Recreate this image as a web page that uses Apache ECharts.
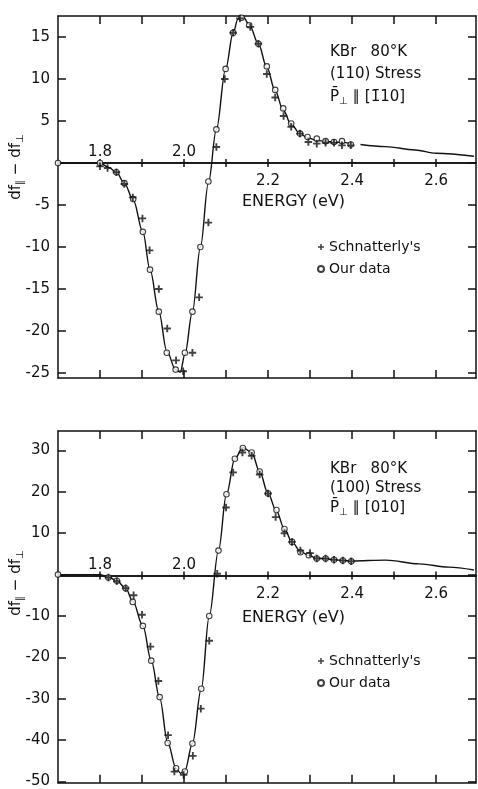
<!DOCTYPE html>
<html>
<head>
<meta charset="utf-8">
<script src="https://cdn.jsdelivr.net/npm/echarts@6/dist/echarts.min.js"></script>
<style>
  html, body { margin: 0; background: #fff; }
  #chart { width: 478px; height: 789px; }
</style>
</head>
<body>
<div id="chart"></div>
<script>
// ---- data ----
const xTicks = [1.8, 1.9, 2.0, 2.1, 2.2, 2.3, 2.4, 2.5, 2.6]
const xLabelsAbove = [1.8, 2.0]
const xLabelsBelow = [2.2, 2.4, 2.6]

const yTicksTop = [-25, -20, -15, -10, -5, 0, 5, 10, 15]
const yLabelsTop = [-25, -20, -15, -10, -5, 5, 10, 15]
const yTicksBot = [-50, -40, -30, -20, -10, 0, 10, 20, 30]
const yLabelsBot = [-50, -40, -30, -20, -10, 10, 20, 30]

// (110) stress panel
const ourTopE = [1.700, 1.800, 1.839, 1.858, 1.879, 1.902, 1.919, 1.940, 1.959, 1.980, 2.002, 2.020, 2.039, 2.058, 2.077, 2.099, 2.117, 2.137, 2.155, 2.177, 2.197, 2.217, 2.236, 2.255, 2.276, 2.294, 2.316, 2.337, 2.357, 2.376, 2.397]
const ourTopV = [0, 0, -1.1, -2.4, -4.3, -8.2, -12.7, -17.7, -22.6, -24.6, -22.6, -17.7, -10.0, -2.2, 4.0, 11.2, 15.5, 17.3, 16.4, 14.2, 11.5, 8.7, 6.5, 4.7, 3.5, 3.1, 2.9, 2.6, 2.5, 2.6, 2.2]
const schTopE = [1.800, 1.818, 1.839, 1.858, 1.878, 1.901, 1.918, 1.940, 1.960, 1.981, 1.998, 2.020, 2.036, 2.058, 2.077, 2.097, 2.117, 2.133, 2.158, 2.177, 2.197, 2.217, 2.237, 2.255, 2.276, 2.296, 2.316, 2.337, 2.357, 2.376, 2.397]
const schTopV = [-0.4, -0.6, -1.1, -2.5, -4.1, -6.6, -10.4, -15.0, -19.7, -23.5, -24.8, -22.6, -16.0, -7.1, 1.9, 10.0, 15.5, 17.2, 16.2, 14.2, 10.6, 7.8, 5.6, 4.3, 3.5, 2.5, 2.3, 2.4, 2.4, 2.1, 2.1]
const curveTopE = [1.70, 1.80, 1.82, 1.839, 1.858, 1.879, 1.902, 1.919, 1.940, 1.959, 1.980, 1.991, 2.002, 2.020, 2.039, 2.058, 2.077, 2.099, 2.117, 2.128, 2.140, 2.155, 2.177, 2.197, 2.217, 2.236, 2.255, 2.276, 2.294, 2.316, 2.337, 2.357, 2.376, 2.397, 2.41, 2.42, 2.48, 2.55, 2.60, 2.69]
const curveTopV = [0, 0, -0.5, -1.1, -2.4, -4.4, -8.2, -12.7, -17.7, -22.4, -24.6, -24.9, -22.8, -17.7, -10.0, -2.4, 4.0, 11.2, 15.5, 17.1, 17.45, 16.5, 14.2, 11.4, 8.6, 6.3, 4.6, 3.5, 3.0, 2.7, 2.55, 2.5, 2.45, 2.3, null, 2.2, 1.95, 1.55, 1.15, 0.8]

// (100) stress panel
const ourBotE = [1.700, 1.820, 1.840, 1.861, 1.878, 1.902, 1.922, 1.942, 1.961, 1.981, 2.002, 2.020, 2.041, 2.060, 2.082, 2.101, 2.121, 2.140, 2.161, 2.180, 2.200, 2.220, 2.239, 2.257, 2.277, 2.297, 2.316, 2.337, 2.357, 2.378, 2.398]
const ourBotV = [0, -0.7, -1.5, -3.3, -6.6, -12.4, -20.8, -29.6, -40.7, -46.8, -47.6, -40.8, -27.6, -10.0, 5.8, 19.4, 28.0, 30.6, 29.5, 24.9, 19.6, 15.6, 11.0, 7.9, 5.4, 4.7, 3.9, 3.9, 3.6, 3.4, 3.2]
const schBotE = [1.820, 1.840, 1.861, 1.880, 1.900, 1.920, 1.939, 1.962, 1.977, 1.999, 2.021, 2.040, 2.060, 2.079, 2.100, 2.117, 2.139, 2.161, 2.180, 2.200, 2.218, 2.239, 2.257, 2.277, 2.300, 2.316, 2.337, 2.357, 2.378, 2.398]
const schBotV = [-0.7, -1.6, -3.3, -5.0, -9.7, -17.4, -25.7, -38.8, -47.6, -48.4, -43.8, -32.4, -16.0, 0.2, 16.2, 24.7, 29.5, 28.7, 24.2, 19.6, 13.9, 10.0, 7.9, 5.8, 5.2, 3.9, 3.9, 3.6, 3.4, 3.2]
const curveBotE = [1.70, 1.80, 1.820, 1.840, 1.861, 1.878, 1.902, 1.922, 1.942, 1.961, 1.981, 1.992, 2.002, 2.020, 2.041, 2.060, 2.082, 2.101, 2.121, 2.140, 2.161, 2.180, 2.200, 2.220, 2.239, 2.257, 2.277, 2.297, 2.316, 2.337, 2.357, 2.378, 2.398, 2.48, 2.56, 2.63, 2.69]
const curveBotV = [0, 0, -0.6, -1.5, -3.3, -6.4, -12.4, -20.8, -29.8, -40.5, -46.8, -48.0, -47.4, -40.8, -27.6, -10.0, 5.8, 19.4, 28.0, 30.7, 29.5, 24.9, 19.6, 15.3, 11.0, 7.9, 5.6, 4.6, 4.0, 3.8, 3.6, 3.4, 3.3, 3.5, 2.6, 1.8, 1.1]

const SCH = "Schnatterly's"
const OUR = 'Our data'

// ---- styling ----
const FONT = 'DejaVu Sans'
const INK = '#111'
const plusPath = 'path://M3,0h2v3h3v2h-3v3h-2v-3h-3v-2h3z'
const X_MIN = 1.7
const X_MAX = 2.695
const LEFT = 58
const WIDTH = 418

const panels = [{
  top: 16, height: 362, yMin: -25.6, yMax: 17.5,
  yTicks: yTicksTop, yLabels: yLabelsTop,
  our: [ourTopE, ourTopV], sch: [schTopE, schTopV], curve: [curveTopE, curveTopV],
  lines: ['KBr   80°K', '(110) Stress', '{m|P̄}{s|⊥}{m| ∥ [1̄10]}'],
  textTop: 52, textGap: 22.5, energyY: 202, titleY: 167, legendTop: 240
}, {
  top: 431, height: 354, yMin: -50.3, yMax: 34.7,
  yTicks: yTicksBot, yLabels: yLabelsBot,
  our: [ourBotE, ourBotV], sch: [schBotE, schBotV], curve: [curveBotE, curveBotV],
  lines: ['KBr   80°K', '(100) Stress', '{m|P̄}{s|⊥}{m| ∥ [010]}'],
  textTop: 469, textGap: 19.5, energyY: 618, titleY: 583, legendTop: 654
}]

const pairs = (e, v) => e.map((x, i) => [x, v[i] == null ? '-' : v[i]])
const line = { color: INK, width: 1.5 }
const fmt = v => v.toFixed(1)
const labelFont = { color: INK, fontFamily: FONT, fontSize: 15 }

const grid = [], xAxis = [], yAxis = [], series = [], legend = [], graphic = []

function xAx(gi, extra) {
  return Object.assign({
    gridIndex: gi, type: 'value', min: X_MIN, max: X_MAX,
    splitLine: { show: false }, axisLabel: { show: false }
  }, extra)
}

panels.forEach(p => {
  // main frame grid
  const g = grid.length
  grid.push({ left: LEFT, width: WIDTH, top: p.top, height: p.height })
  const xi = xAxis.length
  xAxis.push(xAx(g, {
    position: 'bottom', axisLine: { onZero: false, lineStyle: line },
    axisTick: { inside: true, length: 8, customValues: xTicks, lineStyle: line }
  }))
  xAxis.push(xAx(g, {
    position: 'top', axisLine: { onZero: false, lineStyle: line },
    axisTick: { inside: true, length: 8, customValues: xTicks, lineStyle: line }
  }))
  const yi = yAxis.length
  const yBase = { gridIndex: g, type: 'value', min: p.yMin, max: p.yMax, splitLine: { show: false } }
  yAxis.push(Object.assign({}, yBase, {
    position: 'left', axisLine: { show: true, onZero: false, lineStyle: line },
    axisTick: { show: true, inside: true, length: 8, customValues: p.yTicks, lineStyle: line },
    axisLabel: Object.assign({ customValues: p.yLabels, margin: 8 }, labelFont)
  }))
  yAxis.push(Object.assign({}, yBase, {
    position: 'right', axisLine: { show: true, onZero: false, lineStyle: line },
    axisTick: { show: true, inside: true, length: 8, customValues: p.yTicks, lineStyle: line },
    axisLabel: { show: false }
  }))

  // the zero line: one grid above it, one below it, sharing the energy scale
  const zeroY = p.top + p.height * p.yMax / (p.yMax - p.yMin)
  const gUp = grid.length
  grid.push({ left: LEFT, width: WIDTH, top: p.top, height: zeroY - p.top })
  xAxis.push(xAx(gUp, {
    position: 'bottom', axisLine: { onZero: false, lineStyle: line },
    axisTick: { inside: true, length: 4, customValues: xTicks, lineStyle: line },
    axisLabel: Object.assign({ show: true, inside: true, customValues: xLabelsAbove, formatter: fmt, margin: 3 }, labelFont)
  }))
  yAxis.push({ gridIndex: gUp, type: 'value', show: false })
  const gDn = grid.length
  grid.push({ left: LEFT, width: WIDTH, top: zeroY, height: p.top + p.height - zeroY })
  xAxis.push(xAx(gDn, {
    position: 'top', axisLine: { onZero: false, lineStyle: line },
    axisTick: { inside: true, length: 4, customValues: xTicks, lineStyle: line },
    axisLabel: Object.assign({ show: true, inside: true, customValues: xLabelsBelow, formatter: fmt, margin: 11 }, labelFont)
  }))
  yAxis.push({ gridIndex: gDn, type: 'value', show: false })

  series.push({
    type: 'line', xAxisIndex: xi, yAxisIndex: yi, silent: true,
    data: pairs(p.curve[0], p.curve[1]), showSymbol: false, symbol: 'none',
    smooth: 0.35, smoothMonotone: 'x', connectNulls: false,
    lineStyle: { color: INK, width: 1.4 }, z: 2
  })
  series.push({
    name: OUR, type: 'scatter', xAxisIndex: xi, yAxisIndex: yi,
    data: pairs(p.our[0], p.our[1]), symbol: 'circle', symbolSize: 5.5,
    itemStyle: { color: '#fff', borderColor: INK, borderWidth: 1.1 }, z: 3
  })
  series.push({
    name: SCH, type: 'scatter', xAxisIndex: xi, yAxisIndex: yi,
    data: pairs(p.sch[0], p.sch[1]), symbol: plusPath, symbolSize: 7.5,
    itemStyle: { color: INK }, z: 4
  })

  legend.push({
    orient: 'vertical', left: 317, top: p.legendTop, padding: 0,
    itemWidth: 6, itemHeight: 6, itemGap: 8,
    data: [{ name: SCH, icon: plusPath }, { name: OUR, icon: 'circle' }],
    textStyle: { color: INK, fontFamily: FONT, fontSize: 14, lineHeight: 14 }
  })

  p.lines.forEach((t, i) => {
    graphic.push({
      type: 'text', x: 330, y: p.textTop + i * p.textGap,
      style: {
        text: t, fill: INK, font: '15px "' + FONT + '"', align: 'left', verticalAlign: 'middle',
        rich: {
          m: { fontFamily: FONT, fontSize: 15, lineHeight: 18, fill: INK },
          s: { fontFamily: FONT, fontSize: 10, lineHeight: 10, fill: INK, verticalAlign: 'bottom' }
        }
      }
    })
  })
  graphic.push({
    type: 'text', x: 242, y: p.energyY,
    style: { text: 'ENERGY (eV)', fill: INK, font: '16px "' + FONT + '"', align: 'left', verticalAlign: 'middle' }
  })
  graphic.push({
    type: 'text', x: 16, y: p.titleY, rotation: Math.PI / 2,
    style: {
      text: '{m|df}{s|∥}{m| − df}{s|⊥}', fill: INK, align: 'center', verticalAlign: 'middle',
      rich: {
        m: { fontFamily: FONT, fontSize: 15, lineHeight: 18, fill: INK },
        s: { fontFamily: FONT, fontSize: 10, lineHeight: 10, fill: INK, verticalAlign: 'bottom' }
      }
    }
  })
})

const chart = echarts.init(document.getElementById('chart'))
chart.setOption({
  backgroundColor: '#fff',
  animation: false,
  grid: grid,
  xAxis: xAxis,
  yAxis: yAxis,
  legend: legend,
  series: series,
  graphic: graphic
})
</script>
</body>
</html>
